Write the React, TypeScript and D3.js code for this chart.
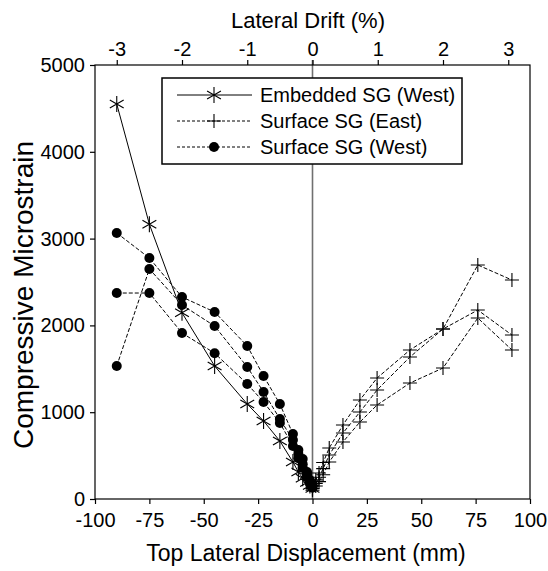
import React, { useEffect, useRef } from 'react';
import * as d3 from 'd3';

// displacement (mm) where the west gauges were read (push direction)
const dispWest = [-90, -75, -60, -45, -30, -22.5, -15, -9, -6.5, -4.5, -2.5, -1.2, 0];
const embeddedWest = [4550, 3165, 2145, 1532, 1094, 899, 668, 426, 311, 240, 190, 155, 120];
const surfaceWestA = [3065, 2776, 2327, 2154, 1763, 1417, 1094, 749, 565, 461, 311, 219, 160];
const surfaceWestB = [2373, 2373, 1912, 1680, 1325, 1118, 876, 611, 470, 357, 253, 180, 130];
const surfaceWestC = [1532, 2650, 2235, 1993, 1521, 1233, 922, 680, 520, 400, 280, 200, 140];

// displacement (mm) where the east gauges were read (pull direction)
const dispEast = [0, 1.5, 3, 4.9, 7.7, 14, 21.8, 29.7, 44.8, 60, 76, 91.7];
const surfaceEastA = [150, 220, 300, 420, 588, 853, 1141, 1394, 1717, 1958, 2696, 2523];
const surfaceEastB = [120, 180, 250, 350, 507, 760, 1002, 1256, 1636, 1958, 2177, 1889];
const surfaceEastC = [100, 150, 200, 280, 426, 657, 887, 1083, 1336, 1509, 2085, 1717];

const xTicks = [-100, -75, -50, -25, 0, 25, 50, 75, 100];
const driftTicks = [-3, -2, -1, 0, 1, 2, 3];
const yTicks = [0, 1000, 2000, 3000, 4000, 5000];
const legendLabels = ['Embedded SG (West)', 'Surface SG (East)', 'Surface SG (West)'];

const FONT = '"Liberation Sans", Arial, sans-serif';

type Marker = 'asterisk' | 'plus' | 'dot';

// plain hyphen minus, like the original plot
const fmt = (d: any) => String(d);

const drawMarker = (g: any, kind: Marker, cx: number, cy: number) => {
  if (kind === 'dot') {
    g.append('circle').attr('cx', cx).attr('cy', cy).attr('r', 5).attr('fill', '#000');
    return;
  }
  const r = kind === 'plus' ? 7 : 8;
  let d = `M${cx},${cy - r}L${cx},${cy + r}`;
  if (kind === 'plus') {
    d += `M${cx - r},${cy}L${cx + r},${cy}`;
  } else {
    const dx = r * Math.cos(Math.PI / 6);
    const dy = r * Math.sin(Math.PI / 6);
    d += `M${cx - dx},${cy - dy}L${cx + dx},${cy + dy}M${cx - dx},${cy + dy}L${cx + dx},${cy - dy}`;
  }
  g.append('path').attr('d', d).attr('stroke', '#000').attr('stroke-width', 1.1).attr('fill', 'none');
};

const App = () => {
  const svgRef = useRef<SVGSVGElement>(null);

  useEffect(() => {
    if (!svgRef.current) return;
    const svg = d3.select(svgRef.current);
    svg.selectAll('*').remove();

    const left = 95, right = 530, top = 65, bottom = 499;

    const x = d3.scaleLinear().domain([-100, 100]).range([left, right]);
    // 3000 mm column height -> 30 mm per 1 % drift
    const drift = d3.scaleLinear().domain([-100 / 30, 100 / 30]).range([left, right]);
    const y = d3.scaleLinear().domain([0, 5000]).range([bottom, top]);

    const series = [
      { xs: dispWest, ys: embeddedWest, marker: 'asterisk' as Marker, dash: null },
      { xs: dispWest, ys: surfaceWestA, marker: 'dot' as Marker, dash: '4,2' },
      { xs: dispWest, ys: surfaceWestB, marker: 'dot' as Marker, dash: '4,2' },
      { xs: dispWest, ys: surfaceWestC, marker: 'dot' as Marker, dash: '4,2' },
      { xs: dispEast, ys: surfaceEastA, marker: 'plus' as Marker, dash: '4,2' },
      { xs: dispEast, ys: surfaceEastB, marker: 'plus' as Marker, dash: '4,2' },
      { xs: dispEast, ys: surfaceEastC, marker: 'plus' as Marker, dash: '4,2' },
    ];

    // zero displacement line
    svg.append('line')
      .attr('x1', x(0)).attr('x2', x(0))
      .attr('y1', top - 5).attr('y2', bottom)
      .attr('stroke', '#707070').attr('stroke-width', 1.6);

    const line = d3.line<[number, number]>().x((d) => x(d[0])).y((d) => y(d[1]));

    series.forEach((s) => {
      const pts = s.xs.map((v, i) => [v, s.ys[i]] as [number, number]);
      svg.append('path')
        .attr('d', line(pts))
        .attr('fill', 'none')
        .attr('stroke', '#000')
        .attr('stroke-width', 1)
        .attr('stroke-dasharray', s.dash);
    });
    series.forEach((s) => {
      const g = svg.append('g');
      s.xs.forEach((v, i) => drawMarker(g, s.marker, x(v), y(s.ys[i])));
    });

    // frame
    svg.append('rect')
      .attr('x', left).attr('y', top)
      .attr('width', right - left).attr('height', bottom - top)
      .attr('fill', 'none').attr('stroke', '#000').attr('stroke-width', 1.2);

    const styleAxis = (g: any) => {
      g.select('.domain').remove();
      g.selectAll('line').attr('stroke', '#000').attr('stroke-width', 1.2);
      g.selectAll('text').attr('font-family', FONT).attr('font-size', 20).attr('fill', '#000');
    };

    svg.append('g')
      .attr('transform', `translate(0,${bottom})`)
      .call(d3.axisBottom(x).tickValues(xTicks).tickSize(5).tickPadding(9).tickFormat(fmt))
      .call(styleAxis);

    svg.append('g')
      .attr('transform', `translate(${left},0)`)
      .call(d3.axisLeft(y).tickValues(yTicks).tickSize(5).tickPadding(5).tickFormat(fmt))
      .call(styleAxis);

    svg.append('g')
      .attr('transform', `translate(0,${top})`)
      .call(d3.axisTop(drift).tickValues(driftTicks).tickSize(5).tickPadding(4).tickFormat(fmt))
      .call(styleAxis);

    // axis titles
    svg.append('text')
      .attr('x', 306).attr('y', 561)
      .attr('text-anchor', 'middle')
      .attr('font-family', FONT).attr('font-size', 23)
      .text('Top Lateral Displacement (mm)');

    svg.append('text')
      .attr('x', 308).attr('y', 28)
      .attr('text-anchor', 'middle')
      .attr('font-family', FONT).attr('font-size', 22)
      .text('Lateral Drift (%)');

    svg.append('text')
      .attr('transform', `translate(33,295) rotate(-90)`)
      .attr('text-anchor', 'middle')
      .attr('font-family', FONT).attr('font-size', 28)
      .text('Compressive Microstrain');

    // legend
    const lg = svg.append('g');
    lg.append('rect')
      .attr('x', 162).attr('y', 78).attr('width', 300).attr('height', 86)
      .attr('fill', '#fff').attr('stroke', '#000').attr('stroke-width', 1.5);
    const legendMarkers: Marker[] = ['asterisk', 'plus', 'dot'];
    legendLabels.forEach((label, i) => {
      const cy = 95 + i * 26;
      lg.append('line')
        .attr('x1', 177).attr('x2', 252).attr('y1', cy).attr('y2', cy)
        .attr('stroke', '#000').attr('stroke-width', 1)
        .attr('stroke-dasharray', i === 0 ? null : '3,2');
      drawMarker(lg, legendMarkers[i], 214, cy);
      lg.append('text')
        .attr('x', 260).attr('y', cy + 7)
        .attr('font-family', FONT).attr('font-size', 20)
        .text(label);
    });
  }, []);

  return (
    <svg
      ref={svgRef}
      width={548}
      height={571}
      style={{ position: 'absolute', left: 0, top: 0, background: '#fff' }}
    />
  );
};

export default App;
